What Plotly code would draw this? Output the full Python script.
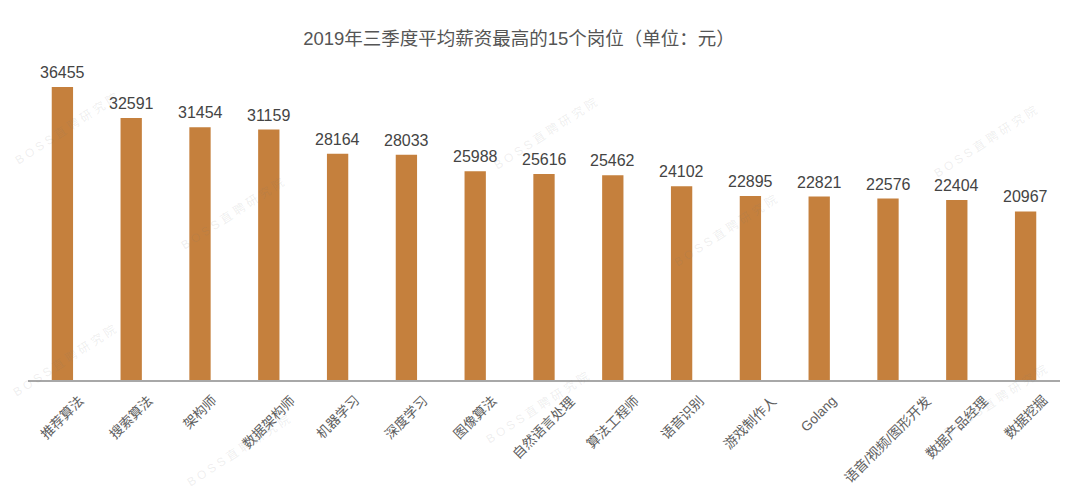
import plotly.graph_objects as go

categories = ["推荐算法", "搜索算法", "架构师", "数据架构师", "机器学习", "深度学习", "图像算法",
              "自然语言处理", "算法工程师", "语音识别", "游戏制作人", "Golang",
              "语音/视频/图形开发", "数据产品经理", "数据挖掘"]
salaries = [36455, 32591, 31454, 31159, 28164, 28033, 25988, 25616, 25462, 24102,
            22895, 22821, 22576, 22404, 20967]
title_text = "2019年三季度平均薪资最高的15个岗位（单位：元）"
watermark_text = "B O S S 直 聘 研 究 院"

W, H = 1080, 503
L, R, T, B = 28, 20, 60, 123
FONT = "Helvetica, Arial, 'Liberation Sans', 'Noto Sans CJK SC', sans-serif"
BAR_COLOR = "#C5803D"

fig = go.Figure(go.Bar(
    x=categories, y=salaries, marker=dict(color=BAR_COLOR, line=dict(width=0)),
    hoverinfo="x+y",
))

annotations = []
# value labels
for c, v in zip(categories, salaries):
    annotations.append(dict(x=c, y=v, xref="x", yref="y", text=str(v), showarrow=False,
                            yanchor="bottom", xanchor="center", yshift=4,
                            font=dict(family=FONT, size=16, color="#444444")))
# category labels (centered under each bar, rotated)
for c in categories:
    annotations.append(dict(x=c, y=0, xref="x", yref="paper", text=c, showarrow=False,
                            yanchor="top", xanchor="center", textangle=-45, yshift=-10,
                            font=dict(family=FONT, size=13.5, color="#5E5E5E")))

# faint watermark
def px2paper(px, py):
    return (px - L) / (W - L - R), (H - B - py) / (H - T - B)

for (px, py) in [(66, 128), (545, 133), (985, 141), (232, 213), (725, 230),
                 (64, 360), (537, 407), (995, 400), (238, 450)]:
    xp, yp = px2paper(px, py)
    annotations.append(dict(x=xp, y=yp, xref="paper", yref="paper", text=watermark_text,
                            showarrow=False, textangle=-33, xanchor="center", yanchor="middle",
                            font=dict(family=FONT, size=12, color="rgba(120,120,120,0.13)")))

fig.update_layout(
    width=W, height=H,
    margin=dict(l=L, r=R, t=T, b=B, pad=0),
    paper_bgcolor="white", plot_bgcolor="white",
    bargap=0.69,
    showlegend=False,
    title=dict(text=title_text, x=519 / W, xanchor="center", y=1 - 39 / H, yanchor="middle",
               font=dict(family=FONT, size=18.5, color="#555555")),
    xaxis=dict(showticklabels=False, ticks="", showgrid=False, zeroline=False,
               showline=True, linecolor="#A8A8A8", linewidth=1.5),
    yaxis=dict(visible=False, range=[0, 39816], showgrid=False, zeroline=False),
    annotations=annotations,
    font=dict(family=FONT),
)

fig.write_html("out.html")
